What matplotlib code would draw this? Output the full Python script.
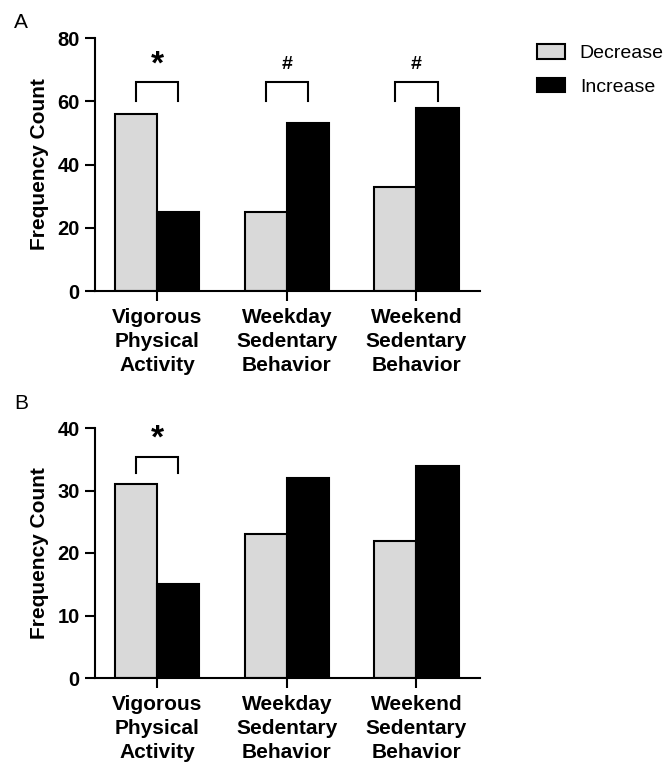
import numpy as np
import matplotlib
matplotlib.use("Agg")
import matplotlib.pyplot as plt

plt.rcParams['font.family'] = ['Liberation Sans', 'DejaVu Sans']

categories = ["Vigorous\nPhysical\nActivity", "Weekday\nSedentary\nBehavior", "Weekend\nSedentary\nBehavior"]
series_names = ["Decrease", "Increase"]

# panel A
a_decrease = [56, 25, 33]
a_increase = [25, 53, 58]
a_marks = ["*", "#", "#"]

# panel B
b_decrease = [31, 23, 22]
b_increase = [15, 32, 34]
b_marks = ["*", None, None]

dec_color = "#d9d9d9"
inc_color = "#000000"
bw = 0.325


def draw_panel(ax, dec, inc, marks, ymax, step, br_top, br_bot, mark_y):
    x = np.arange(len(categories))
    ax.bar(x - bw / 2, dec, bw, color=dec_color, edgecolor="black", linewidth=1.5, label=series_names[0])
    ax.bar(x + bw / 2, inc, bw, color=inc_color, edgecolor="black", linewidth=1.5, label=series_names[1])
    ax.set_xlim(-0.48, 2.49)
    ax.set_ylim(0, ymax)
    for s in ["top", "right"]:
        ax.spines[s].set_visible(False)
    for s in ["left", "bottom"]:
        ax.spines[s].set_linewidth(1.5)
    ax.tick_params(axis="both", direction="out", length=7, width=1.5, pad=4)
    ax.tick_params(axis="x", pad=5.5)
    yt = np.arange(0, ymax + 1, step)
    ax.set_yticks(yt, labels=[str(v) for v in yt], fontsize=14.5, fontweight="bold")
    ax.set_xticks(x, labels=categories, fontsize=15, fontweight="bold", linespacing=1.32)
    ax.set_ylabel("Frequency Count", fontsize=15, fontweight="bold", labelpad=6)
    for i, m in enumerate(marks):
        if m is None:
            continue
        x0, x1 = i - bw / 2, i + bw / 2
        ax.plot([x0, x0, x1, x1], [br_bot, br_top, br_top, br_bot], color="black", lw=1.5,
                clip_on=False, solid_joinstyle="miter")
        if m == "*":
            ax.text(i, mark_y, m, ha="center", va="center", fontsize=24, fontweight="bold")
        else:
            ax.text(i, mark_y, m, ha="center", va="center", fontsize=14, fontweight="bold")


fig = plt.figure(figsize=(6.67, 7.67), dpi=100)
ax1 = fig.add_axes([95 / 667, 1 - 291 / 767, 385 / 667, 253 / 767])
ax2 = fig.add_axes([95 / 667, 1 - 678 / 767, 385 / 667, 250 / 767])

draw_panel(ax1, a_decrease, a_increase, a_marks, 80, 20, 66, 60, 71.5)
draw_panel(ax2, b_decrease, b_increase, b_marks, 40, 10, 35.4, 32.8, 38.3)

fig.text(14 / 667, 1 - 22 / 767, "A", fontsize=15, va="center", ha="left")
fig.text(14 / 667, 1 - 403 / 767, "B", fontsize=15, va="center", ha="left")

handles, labels = ax1.get_legend_handles_labels()
fig.legend(handles, labels, loc="upper left", bbox_to_anchor=(537 / 667, 1 - 44 / 767),
           frameon=False, fontsize=14, handlelength=1.45, handleheight=0.78,
           handletextpad=0.75, labelspacing=0.8, borderpad=0, borderaxespad=0)

fig.savefig("out.png", dpi=100)
